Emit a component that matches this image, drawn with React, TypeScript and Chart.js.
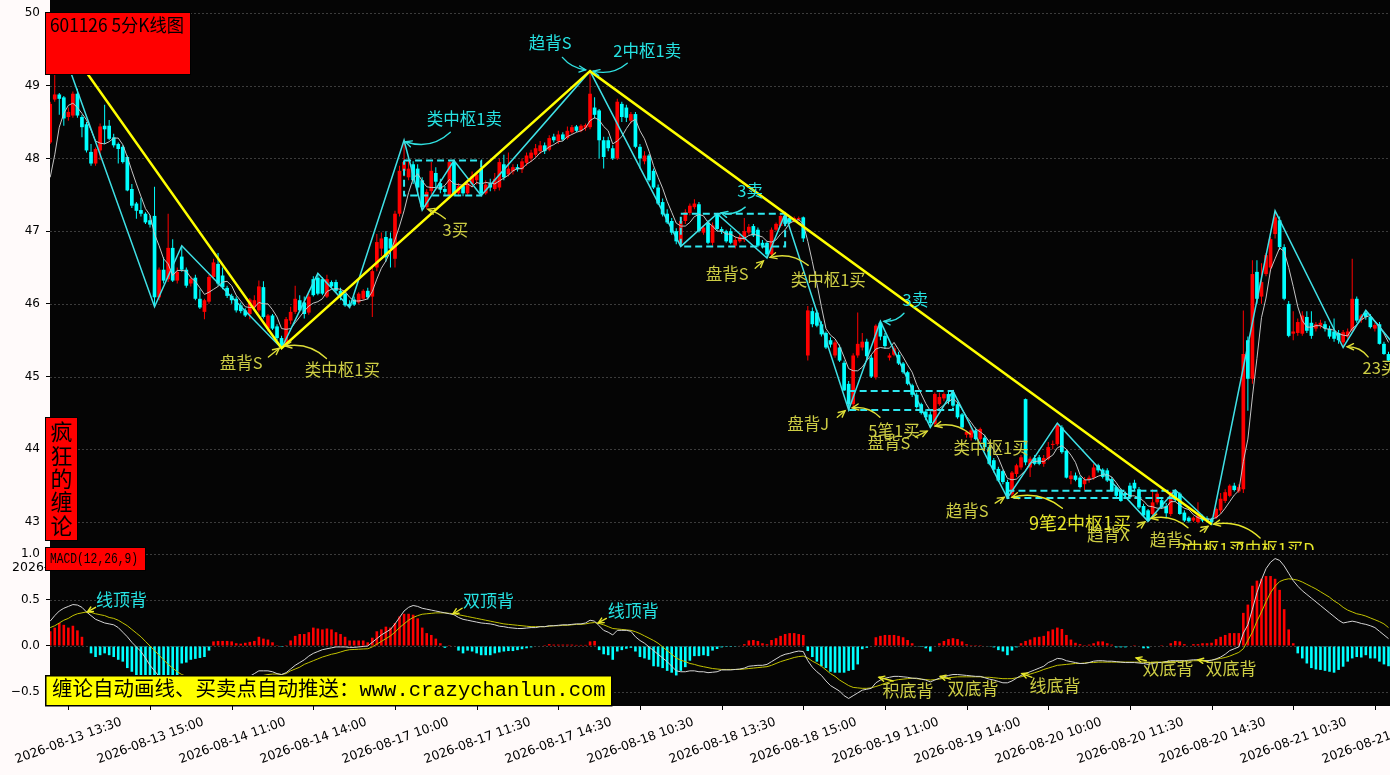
import React, { useEffect, useRef } from "react";
import { Chart, registerables } from "chart.js";

Chart.register(...registerables);

// ---------------- data ----------------
const OPEN = [
  48.22,48.81,48.88,48.84,48.57,48.59,48.89,48.57,48.47,48.09,
  47.93,48.11,48.45,48.45,48.29,48.20,48.16,48.02,47.58,47.38,
  47.29,47.24,47.15,47.21,46.09,46.47,46.34,46.77,46.32,46.65,
  46.47,46.28,46.36,46.07,45.89,46.03,46.37,46.55,46.39,46.22,
  46.11,46.07,45.98,45.91,45.86,45.95,45.91,46.23,45.66,45.84,
  45.69,45.53,45.45,45.77,45.89,46.05,46.02,45.88,46.34,46.36,
  46.34,46.10,46.30,46.30,46.18,46.14,46.00,46.06,46.02,46.07,
  46.18,46.10,46.50,46.76,46.92,46.90,46.62,47.24,47.83,47.74,
  47.92,47.86,47.70,47.33,47.55,47.80,47.66,47.58,47.49,47.95,
  47.52,47.62,47.52,47.65,47.70,47.86,47.52,47.66,47.58,47.60,
  47.92,47.78,47.82,47.88,47.85,47.94,48.00,48.05,48.10,48.18,
  48.12,48.30,48.24,48.33,48.28,48.36,48.44,48.38,48.42,48.43,
  48.70,48.66,48.25,48.25,48.14,48.00,48.75,48.70,48.52,48.61,
  48.16,47.96,48.04,47.83,47.60,47.40,47.24,47.14,47.00,46.84,
  47.14,47.25,47.33,47.37,46.98,47.12,46.84,47.23,47.03,47.00,
  47.00,46.80,46.86,46.88,46.98,47.07,47.02,46.84,46.84,46.68,
  47.02,47.07,47.21,47.18,47.14,47.16,47.19,45.29,45.90,45.88,
  45.72,45.60,45.50,45.29,45.40,45.19,44.90,44.62,45.29,45.40,
  45.48,45.26,44.99,45.74,45.56,45.26,45.30,45.30,45.18,45.06,
  44.88,44.75,44.62,44.52,44.48,44.35,44.62,44.70,44.76,44.78,
  44.62,44.48,44.20,44.16,44.26,44.14,44.16,44.03,43.85,43.73,
  43.70,43.55,43.38,43.66,43.75,44.69,43.75,43.88,43.89,43.80,
  43.87,44.06,44.07,44.30,43.98,43.59,43.64,43.61,43.52,43.58,
  43.61,43.78,43.72,43.71,43.59,43.48,43.43,43.40,43.50,43.54,
  43.45,43.22,43.16,43.11,43.27,43.30,43.22,43.11,43.41,43.39,
  43.13,43.06,43.02,43.00,43.07,43.05,43.04,43.06,43.16,43.29,
  43.36,43.50,43.42,43.45,45.50,44.97,46.44,46.10,46.41,46.50,
  46.96,47.15,46.78,46.00,45.59,45.60,45.59,45.82,45.74,45.66,
  45.70,45.72,45.66,45.62,45.60,45.47,45.55,45.63,46.07,45.78,
  45.88,45.82,45.66,45.72,45.45,45.31,
];
const HIGH = [
  48.78,49.80,48.90,48.86,48.70,48.92,48.96,48.60,48.50,48.20,
  48.15,48.48,48.74,48.53,48.34,48.22,48.18,48.04,47.65,47.40,
  47.46,47.26,47.22,47.61,46.50,46.64,47.24,46.89,46.50,46.80,
  46.50,46.38,46.40,46.20,46.07,46.40,46.62,46.70,46.50,46.25,
  46.14,46.10,46.02,45.94,46.08,46.12,46.32,46.31,45.86,45.86,
  45.72,45.56,45.82,45.96,46.25,46.12,46.10,46.14,46.38,46.42,
  46.37,46.40,46.32,46.33,46.22,46.16,46.05,46.10,46.16,46.20,
  46.22,46.50,46.96,46.98,47.00,46.98,47.28,47.90,48.25,47.98,
  47.96,47.92,47.74,47.58,47.95,47.88,47.72,47.62,47.97,47.97,
  47.66,47.64,47.70,47.82,47.80,47.90,47.70,47.72,47.80,48.00,
  48.05,48.08,47.92,47.92,48.00,48.08,48.12,48.20,48.24,48.22,
  48.32,48.34,48.38,48.36,48.44,48.46,48.46,48.47,48.48,49.20,
  48.84,48.68,48.30,48.30,48.18,48.82,48.78,48.74,48.64,48.64,
  48.20,48.10,48.06,47.86,47.64,47.45,47.30,47.18,47.04,47.18,
  47.30,47.38,47.44,47.40,47.08,47.15,47.12,47.24,47.06,47.02,
  47.04,46.92,46.96,47.18,47.10,47.10,47.05,46.88,46.86,47.05,
  47.12,47.22,47.24,47.20,47.20,47.20,47.20,45.97,45.95,45.92,
  45.76,45.62,45.54,45.50,45.44,45.22,44.94,45.32,45.88,45.60,
  45.52,45.30,45.72,45.76,45.60,45.32,45.42,45.34,45.20,45.08,
  44.90,44.78,44.64,44.55,44.52,44.78,44.78,44.78,44.79,44.80,
  44.65,44.50,44.26,44.32,44.30,44.30,44.20,44.06,43.88,43.76,
  43.72,43.58,43.70,43.80,43.92,44.70,43.90,43.92,43.92,43.92,
  44.10,44.12,44.36,44.33,44.00,43.70,43.68,43.64,43.62,43.64,
  43.80,43.80,43.74,43.74,43.62,43.50,43.46,43.42,43.54,43.58,
  43.48,43.25,43.18,43.45,43.42,43.33,43.26,43.42,43.44,43.41,
  43.16,43.08,43.08,43.27,43.10,43.08,43.06,43.20,43.40,43.45,
  43.52,43.54,43.52,45.91,45.55,46.60,46.60,46.56,46.70,46.92,
  47.28,47.20,46.82,46.04,45.90,45.80,45.90,45.90,45.90,45.75,
  45.78,45.76,45.70,45.80,45.64,45.64,45.66,46.62,46.10,45.86,
  45.91,45.86,45.74,45.75,45.48,45.34,
];
const LOW = [
  48.20,48.78,48.60,48.45,48.52,48.56,48.56,48.29,48.08,47.90,
  47.90,47.98,48.20,48.25,48.15,47.93,47.93,47.55,47.32,47.17,
  47.20,47.10,47.05,45.96,46.05,46.28,46.30,46.30,46.28,46.44,
  46.22,46.24,46.05,45.93,45.79,46.00,46.34,46.25,46.20,46.08,
  46.00,45.88,45.87,45.82,45.79,45.92,45.88,45.80,45.62,45.64,
  45.50,45.39,45.42,45.72,45.86,45.89,45.80,45.85,46.10,46.12,
  46.12,46.08,46.22,46.15,46.05,45.96,45.95,45.97,46.00,46.05,
  46.06,45.82,46.45,46.66,46.58,46.50,46.50,47.20,47.75,47.70,
  47.65,47.48,47.29,47.30,47.50,47.60,47.52,47.50,47.48,47.48,
  47.48,47.48,47.50,47.60,47.64,47.49,47.50,47.55,47.55,47.56,
  47.70,47.75,47.78,47.82,47.80,47.90,47.95,48.02,48.06,48.06,
  48.10,48.22,48.20,48.24,48.26,48.34,48.36,48.36,48.38,48.40,
  48.55,48.00,47.86,48.10,47.98,47.98,48.50,48.50,48.48,48.14,
  47.86,47.92,47.68,47.58,47.36,47.20,47.10,46.95,46.82,46.79,
  47.10,47.22,47.30,46.98,46.95,46.82,46.80,47.00,46.96,46.84,
  46.82,46.76,46.84,46.85,46.95,46.92,46.78,46.76,46.63,46.65,
  47.00,47.05,47.08,47.10,47.12,47.14,46.85,45.22,45.68,45.68,
  45.55,45.38,45.40,45.26,45.20,44.80,44.54,44.58,45.26,45.36,
  45.24,44.98,44.96,45.50,45.38,45.22,45.28,45.16,45.04,44.88,
  44.72,44.56,44.48,44.40,44.30,44.32,44.60,44.66,44.62,44.58,
  44.42,44.28,44.16,44.12,44.12,44.10,44.00,43.78,43.68,43.55,
  43.52,43.33,43.35,43.62,43.72,43.78,43.62,43.78,43.78,43.76,
  43.85,44.00,44.05,43.94,43.60,43.52,43.56,43.46,43.44,43.54,
  43.58,43.68,43.60,43.55,43.42,43.34,43.28,43.34,43.32,43.44,
  43.18,43.08,43.01,43.08,43.24,43.18,43.05,43.08,43.28,43.10,
  43.00,42.99,43.00,42.98,43.00,43.00,42.97,43.04,43.12,43.26,
  43.34,43.42,43.40,43.40,44.53,44.90,46.00,46.00,46.38,46.45,
  46.90,46.74,46.05,45.54,45.50,45.56,45.56,45.60,45.52,45.62,
  45.66,45.62,45.52,45.48,45.45,45.40,45.52,45.60,45.74,45.74,
  45.78,45.66,45.62,45.44,45.30,45.20,
];
const CLOSE = [
  48.75,48.88,48.82,48.55,48.64,48.89,48.59,48.43,48.11,47.93,
  48.13,48.44,48.40,48.27,48.18,48.13,47.95,47.56,47.35,47.28,
  47.24,47.12,47.09,46.09,46.47,46.32,46.77,46.32,46.44,46.47,
  46.25,46.34,46.07,45.95,46.05,46.37,46.57,46.28,46.23,46.11,
  46.05,45.91,45.90,45.84,46.06,46.05,46.24,45.82,45.84,45.66,
  45.53,45.43,45.79,45.89,46.07,45.91,45.86,46.10,46.12,46.14,
  46.14,46.34,46.24,46.18,46.10,45.98,45.97,45.99,46.14,46.18,
  46.09,46.45,46.85,46.90,46.64,46.76,47.24,47.83,47.95,47.86,
  47.70,47.60,47.33,47.54,47.83,47.68,47.57,47.54,47.95,47.50,
  47.62,47.52,47.66,47.76,47.78,47.52,47.64,47.60,47.72,47.95,
  47.74,47.86,47.88,47.85,47.96,48.04,48.08,48.14,48.18,48.10,
  48.28,48.25,48.33,48.26,48.38,48.43,48.38,48.45,48.46,48.89,
  48.60,48.25,48.02,48.14,48.00,48.78,48.57,48.56,48.61,48.16,
  48.00,48.04,47.70,47.60,47.38,47.23,47.12,46.98,46.86,47.14,
  47.26,47.35,47.38,47.00,47.05,46.84,47.08,47.03,46.99,46.86,
  46.84,46.88,46.92,47.00,47.06,46.94,46.80,46.80,46.68,47.02,
  47.10,47.21,47.10,47.12,47.18,47.18,46.90,45.91,45.72,45.70,
  45.58,45.40,45.44,45.47,45.22,44.81,44.62,45.29,45.45,45.48,
  45.28,45.00,45.70,45.55,45.42,45.29,45.39,45.18,45.06,44.90,
  44.75,44.58,44.50,44.44,44.36,44.76,44.72,44.76,44.66,44.60,
  44.44,44.30,44.24,44.26,44.14,44.28,44.03,43.80,43.72,43.57,
  43.55,43.36,43.68,43.78,43.89,43.82,43.87,43.80,43.80,43.88,
  44.03,44.07,44.33,43.96,43.61,43.64,43.58,43.48,43.58,43.61,
  43.75,43.71,43.62,43.57,43.43,43.36,43.29,43.37,43.34,43.46,
  43.20,43.09,43.02,43.27,43.39,43.20,43.12,43.41,43.30,43.11,
  43.02,43.01,43.06,43.09,43.02,43.02,43.00,43.18,43.32,43.41,
  43.50,43.44,43.48,45.31,44.97,46.41,46.07,46.30,46.67,46.89,
  47.19,46.78,46.07,45.56,45.62,45.75,45.84,45.63,45.56,45.72,
  45.74,45.66,45.55,45.52,45.50,45.61,45.62,46.07,45.77,45.84,
  45.82,45.68,45.71,45.45,45.31,45.22,
];
const MA = [
  47.74,48.05,48.43,48.62,48.73,48.76,48.70,48.62,48.53,48.39,
  48.24,48.21,48.20,48.23,48.28,48.28,48.19,48.02,47.83,47.65,
  47.48,47.31,47.22,46.96,46.80,46.62,46.55,46.39,46.46,46.46,
  46.45,46.36,46.31,46.22,46.13,46.16,46.20,46.24,46.30,46.31,
  46.25,46.12,46.04,45.96,45.95,45.95,46.02,46.00,46.00,45.92,
  45.82,45.66,45.65,45.66,45.74,45.82,45.90,45.97,46.01,46.03,
  46.07,46.17,46.20,46.21,46.20,46.17,46.09,46.04,46.04,46.05,
  46.07,46.17,46.34,46.49,46.59,46.72,46.88,47.07,47.28,47.53,
  47.72,47.79,47.69,47.61,47.60,47.60,47.59,47.63,47.71,47.65,
  47.64,47.63,47.65,47.61,47.67,47.65,47.67,47.66,47.65,47.69,
  47.73,47.77,47.83,47.86,47.86,47.92,47.96,48.01,48.08,48.11,
  48.16,48.19,48.23,48.24,48.30,48.33,48.36,48.38,48.42,48.52,
  48.56,48.53,48.44,48.38,48.20,48.24,48.30,48.41,48.50,48.54,
  48.38,48.27,48.10,47.90,47.74,47.59,47.41,47.26,47.11,47.07,
  47.07,47.12,47.20,47.23,47.21,47.12,47.07,47.00,47.00,46.96,
  46.96,46.92,46.90,46.90,46.94,46.96,46.94,46.92,46.86,46.85,
  46.88,46.96,47.02,47.11,47.14,47.16,47.10,46.86,46.58,46.28,
  45.96,45.66,45.57,45.52,45.42,45.27,45.11,45.08,45.08,45.13,
  45.22,45.30,45.38,45.40,45.39,45.39,45.47,45.37,45.27,45.16,
  45.06,44.89,44.76,44.63,44.53,44.53,44.56,44.61,44.65,44.70,
  44.64,44.55,44.45,44.37,44.28,44.24,44.19,44.10,43.99,43.88,
  43.73,43.60,43.58,43.59,43.65,43.71,43.81,43.83,43.84,43.83,
  43.88,43.92,44.02,44.05,44.00,43.92,43.82,43.65,43.58,43.58,
  43.60,43.63,43.65,43.65,43.62,43.54,43.45,43.40,43.36,43.36,
  43.33,43.29,43.22,43.21,43.19,43.19,43.20,43.28,43.28,43.23,
  43.19,43.17,43.10,43.06,43.04,43.04,43.04,43.06,43.11,43.19,
  43.28,43.37,43.43,43.83,44.14,44.72,45.25,45.81,46.08,46.47,
  46.62,46.77,46.72,46.50,46.24,45.96,45.77,45.68,45.68,45.70,
  45.70,45.66,45.65,45.64,45.59,45.57,45.56,45.66,45.71,45.78,
  45.82,45.84,45.76,45.70,45.59,45.47,
];
const DIF = [
  0.27,0.33,0.38,0.41,0.43,0.45,0.445,0.42,0.37,0.33,
  0.29,0.27,0.25,0.24,0.23,0.20,0.15,0.10,0.04,-0.01,
  -0.06,-0.13,-0.21,-0.27,-0.33,-0.38,-0.42,-0.45,-0.47,-0.45,
  -0.45,-0.44,-0.45,-0.46,-0.46,-0.43,-0.40,-0.38,-0.37,-0.36,
  -0.36,-0.36,-0.36,-0.35,-0.33,-0.30,-0.27,-0.27,-0.27,-0.28,
  -0.30,-0.31,-0.29,-0.25,-0.21,-0.18,-0.15,-0.11,-0.08,-0.06,
  -0.04,-0.03,-0.02,-0.01,-0.01,-0.01,-0.015,-0.015,-0.01,-0.005,
  0.0,0.04,0.08,0.12,0.15,0.18,0.24,0.31,0.38,0.42,
  0.44,0.43,0.41,0.40,0.39,0.38,0.37,0.36,0.35,0.34,
  0.31,0.29,0.28,0.27,0.26,0.25,0.245,0.24,0.23,0.215,
  0.21,0.20,0.195,0.19,0.19,0.195,0.20,0.20,0.21,0.21,
  0.22,0.22,0.225,0.23,0.23,0.235,0.24,0.24,0.25,0.28,
  0.27,0.22,0.17,0.15,0.12,0.17,0.17,0.17,0.16,0.10,
  0.06,0.03,-0.01,-0.05,-0.09,-0.13,-0.17,-0.22,-0.27,-0.28,
  -0.28,-0.27,-0.27,-0.28,-0.28,-0.29,-0.285,-0.28,-0.26,-0.26,
  -0.26,-0.255,-0.25,-0.24,-0.22,-0.215,-0.21,-0.21,-0.20,-0.17,
  -0.14,-0.11,-0.09,-0.08,-0.065,-0.055,-0.06,-0.16,-0.23,-0.28,
  -0.32,-0.38,-0.43,-0.46,-0.49,-0.54,-0.57,-0.54,-0.51,-0.48,
  -0.47,-0.46,-0.40,-0.37,-0.35,-0.34,-0.33,-0.33,-0.335,-0.34,
  -0.35,-0.35,-0.36,-0.37,-0.39,-0.37,-0.35,-0.335,-0.32,-0.31,
  -0.31,-0.315,-0.32,-0.325,-0.33,-0.33,-0.345,-0.36,-0.37,-0.385,
  -0.40,-0.40,-0.38,-0.35,-0.32,-0.30,-0.28,-0.26,-0.24,-0.22,
  -0.18,-0.16,-0.135,-0.14,-0.16,-0.17,-0.18,-0.19,-0.19,-0.18,
  -0.165,-0.16,-0.16,-0.165,-0.165,-0.17,-0.175,-0.18,-0.18,-0.18,
  -0.185,-0.19,-0.20,-0.19,-0.18,-0.18,-0.17,-0.16,-0.16,-0.16,
  -0.16,-0.155,-0.15,-0.15,-0.155,-0.16,-0.155,-0.14,-0.12,-0.09,
  -0.05,-0.03,-0.01,0.14,0.23,0.40,0.58,0.72,0.84,0.91,
  0.95,0.93,0.87,0.79,0.71,0.65,0.60,0.56,0.52,0.48,
  0.44,0.40,0.36,0.32,0.28,0.25,0.26,0.27,0.26,0.245,
  0.235,0.22,0.20,0.16,0.12,0.08,
];
const DEA = [
  0.20,0.22,0.25,0.28,0.30,0.33,0.35,0.36,0.37,0.365,
  0.35,0.34,0.33,0.31,0.30,0.28,0.25,0.22,0.18,0.14,
  0.10,0.05,0.0,-0.05,-0.10,-0.15,-0.20,-0.24,-0.28,-0.31,
  -0.33,-0.35,-0.37,-0.38,-0.39,-0.40,-0.40,-0.40,-0.395,-0.39,
  -0.385,-0.38,-0.375,-0.37,-0.36,-0.35,-0.33,-0.32,-0.31,-0.305,
  -0.305,-0.31,-0.30,-0.27,-0.25,-0.23,-0.20,-0.18,-0.16,-0.14,
  -0.12,-0.105,-0.09,-0.08,-0.065,-0.05,-0.04,-0.038,-0.035,-0.032,
  -0.03,-0.01,0.02,0.05,0.08,0.11,0.15,0.20,0.24,0.28,
  0.31,0.33,0.345,0.35,0.355,0.36,0.36,0.36,0.355,0.35,
  0.34,0.33,0.32,0.31,0.30,0.29,0.28,0.27,0.26,0.25,
  0.24,0.235,0.23,0.225,0.22,0.215,0.21,0.21,0.21,0.21,
  0.215,0.22,0.22,0.225,0.225,0.23,0.235,0.235,0.24,0.25,
  0.255,0.245,0.23,0.21,0.19,0.185,0.18,0.175,0.17,0.155,
  0.135,0.11,0.085,0.06,0.03,-0.01,-0.05,-0.09,-0.13,-0.155,
  -0.17,-0.19,-0.20,-0.215,-0.225,-0.235,-0.245,-0.25,-0.255,-0.255,
  -0.255,-0.255,-0.255,-0.25,-0.245,-0.24,-0.235,-0.23,-0.225,-0.21,
  -0.19,-0.17,-0.155,-0.14,-0.125,-0.115,-0.11,-0.13,-0.165,-0.19,
  -0.22,-0.26,-0.30,-0.33,-0.37,-0.40,-0.43,-0.45,-0.455,-0.46,
  -0.46,-0.455,-0.44,-0.425,-0.405,-0.39,-0.375,-0.365,-0.36,-0.355,
  -0.35,-0.355,-0.36,-0.365,-0.37,-0.365,-0.36,-0.35,-0.345,-0.34,
  -0.335,-0.335,-0.335,-0.335,-0.335,-0.335,-0.34,-0.34,-0.345,-0.35,
  -0.355,-0.355,-0.355,-0.345,-0.335,-0.32,-0.305,-0.29,-0.275,-0.255,
  -0.24,-0.225,-0.21,-0.205,-0.20,-0.195,-0.19,-0.19,-0.185,-0.18,
  -0.18,-0.175,-0.175,-0.175,-0.175,-0.175,-0.175,-0.175,-0.175,-0.175,
  -0.175,-0.175,-0.18,-0.18,-0.175,-0.175,-0.17,-0.17,-0.17,-0.165,
  -0.165,-0.165,-0.16,-0.16,-0.16,-0.16,-0.155,-0.145,-0.135,-0.125,
  -0.11,-0.09,-0.07,-0.03,0.06,0.15,0.27,0.37,0.48,0.58,
  0.65,0.70,0.72,0.73,0.725,0.715,0.695,0.67,0.645,0.62,
  0.59,0.56,0.53,0.49,0.46,0.42,0.39,0.37,0.35,0.34,
  0.325,0.305,0.285,0.265,0.24,0.20,
];
const HIST = [
  0.16,0.20,0.25,0.23,0.20,0.22,0.17,0.10,0.0,-0.08,
  -0.12,-0.10,-0.08,-0.10,-0.12,-0.15,-0.17,-0.24,-0.28,-0.32,
  -0.35,-0.37,-0.38,-0.40,-0.42,-0.42,-0.40,-0.38,-0.34,-0.19,
  -0.18,-0.15,-0.14,-0.13,-0.12,-0.05,0.05,0.055,0.055,0.055,
  0.05,0.03,0.025,0.035,0.045,0.055,0.10,0.08,0.07,0.04,
  0.01,-0.01,0.01,0.06,0.11,0.13,0.13,0.15,0.20,0.19,
  0.18,0.19,0.18,0.15,0.13,0.10,0.06,0.06,0.06,0.06,
  0.04,0.09,0.16,0.18,0.21,0.20,0.25,0.32,0.35,0.35,
  0.34,0.30,0.20,0.14,0.12,0.08,0.03,-0.02,0.01,0.005,
  -0.05,-0.08,-0.05,-0.06,-0.08,-0.10,-0.10,-0.10,-0.08,-0.07,
  -0.06,-0.055,-0.055,-0.045,-0.035,-0.025,-0.015,-0.005,0.005,0.01,
  0.02,0.015,0.015,0.015,0.015,0.015,0.012,0.012,0.012,0.05,
  0.055,-0.045,-0.09,-0.10,-0.15,-0.06,-0.045,-0.03,-0.02,-0.06,
  -0.12,-0.135,-0.15,-0.22,-0.225,-0.24,-0.27,-0.29,-0.32,-0.27,
  -0.23,-0.16,-0.11,-0.11,-0.10,-0.11,-0.05,-0.033,-0.015,-0.01,
  -0.01,-0.003,0.007,0.02,0.06,0.065,0.055,0.03,0.02,0.065,
  0.085,0.11,0.13,0.14,0.14,0.13,0.12,-0.055,-0.12,-0.17,
  -0.22,-0.24,-0.28,-0.29,-0.29,-0.29,-0.27,-0.26,-0.20,-0.035,
  -0.02,-0.005,0.095,0.11,0.12,0.12,0.12,0.11,0.095,0.065,
  0.03,-0.007,-0.01,-0.025,-0.06,0.005,0.03,0.055,0.075,0.085,
  0.075,0.05,0.02,0.01,0.01,0.01,0.0,-0.007,-0.015,-0.045,
  -0.06,-0.10,-0.05,-0.015,0.03,0.055,0.07,0.095,0.10,0.11,
  0.16,0.18,0.20,0.185,0.12,0.07,0.035,0.02,0.01,0.015,
  0.03,0.05,0.05,0.03,0.015,-0.015,-0.015,-0.015,0.0,0.01,
  0.0,-0.025,-0.025,0.0,0.0,0.01,0.0,0.03,0.055,0.05,
  0.02,0.0,0.02,0.02,0.03,0.03,0.035,0.075,0.10,0.12,
  0.14,0.14,0.14,0.36,0.45,0.655,0.71,0.73,0.76,0.76,
  0.73,0.61,0.40,0.18,0.03,-0.08,-0.135,-0.19,-0.24,-0.255,
  -0.26,-0.27,-0.28,-0.29,-0.26,-0.225,-0.17,-0.135,-0.12,-0.125,
  -0.10,-0.135,-0.135,-0.17,-0.20,-0.22,
];
// strokes (bi) vertices [bar, price]
const BI = [
  [1,49.80],[23,45.96],[29,46.80],[51,45.39],[59,46.42],[66,45.95],[78,48.25],[82,47.29],
  [89,47.97],[95,47.49],[119,49.20],[139,46.79],[147,47.24],[158,46.63],[162,47.24],[176,44.54],
  [183,45.76],[194,44.30],[199,44.80],[211,43.33],[222,44.36],[242,43.01],[248,43.44],[256,42.97],
  [270,47.28],[285,45.40],[290,45.91],[297,45.38],
];
// segment (xianduan) vertices
const SEG = [[1,49.80],[51,45.39],[119,49.20],[256,42.97]];
// pivots: [fromBar, toBar, top, bottom]
const ZS = [[78,95,47.97,47.49],[139,162,47.24,46.79],[176,199,44.80,44.54],[211,248,43.43,43.33]];

const TICK_POS = [4,22,40,58,76,94,112,130,148,166,184,202,220,238,256,274,292];
const TICK_LABELS = [
  "2026-08-13 13:30","2026-08-13 15:00","2026-08-14 11:00","2026-08-14 14:00",
  "2026-08-17 10:00","2026-08-17 11:30","2026-08-17 14:30","2026-08-18 10:30",
  "2026-08-18 13:30","2026-08-18 15:00","2026-08-19 11:00","2026-08-19 14:00",
  "2026-08-20 10:00","2026-08-20 11:30","2026-08-20 14:30","2026-08-21 10:30",
  "2026-08-21 13:30",
];
const PRICE_TICKS = [43,44,45,46,47,48,49,50];
const MACD_TICKS = [-0.5,0,0.5,1.0];
const MACD_TICK_LABELS = ["\u22120.5","0.0","0.5","1.0"];

// annotations: text, colour key, text pos, arrow from, arrow to (data coords), curvature
const MAIN_NOTES = [
  { t:"盘背S", c:"k", tb:42.1, tp:45.19, fb:48.1, fp:45.27, ab:50.5, ap:45.39, r:0 },
  { t:"类中枢1买", c:"k", tb:64.4, tp:45.09, fb:60.9, fp:45.25, ab:51.8, ap:45.42, r:0.25 },
  { t:"类中枢1卖", c:"c", tb:91.3, tp:48.54, fb:88.2, fp:48.36, ab:78.3, ap:48.23, r:-0.3 },
  { t:"3买", c:"k", tb:89.3, tp:47.02, fb:87.1, fp:47.17, ab:83.3, ap:47.30, r:0.1 },
  { t:"趋背S", c:"c", tb:110.2, tp:49.59, fb:112.9, fp:49.39, ab:118.0, ap:49.22, r:0.2 },
  { t:"2中枢1卖", c:"c", tb:131.6, tp:49.48, fb:127.2, fp:49.31, ab:119.7, ap:49.20, r:-0.25 },
  { t:"3卖", c:"c", tb:154.3, tp:47.55, fb:153.2, fp:47.33, ab:147.9, ap:47.25, r:-0.25 },
  { t:"盘背S", c:"k", tb:149.2, tp:46.42, fb:155.4, fp:46.49, ab:157.2, ap:46.59, r:0 },
  { t:"类中枢1买", c:"k", tb:171.5, tp:46.33, fb:167.1, fp:46.53, ab:158.7, ap:46.64, r:0.25 },
  { t:"3卖", c:"c", tb:190.7, tp:46.05, fb:188.2, fp:45.87, ab:183.8, ap:45.76, r:-0.25 },
  { t:"盘背J", c:"k", tb:167.1, tp:44.35, fb:173.5, fp:44.44, ab:175.2, ap:44.53, r:0 },
  { t:"5笔1买", c:"k", tb:186.0, tp:44.26, fb:182.9, fp:44.44, ab:176.8, ap:44.57, r:0.25 },
  { t:"盘背S", c:"k", tb:184.9, tp:44.09, fb:190.7, fp:44.17, ab:193.3, ap:44.25, r:0 },
  { t:"类中枢1买", c:"k", tb:207.4, tp:44.02, fb:202.8, fp:44.21, ab:195.1, ap:44.32, r:0.25 },
  { t:"趋背S", c:"k", tb:202.1, tp:43.15, fb:208.3, fp:43.26, ab:210.3, ap:43.34, r:0 },
  { t:"9笔2中枢1买", c:"y", tb:227.0, tp:42.98, fb:223.1, fp:43.19, ab:212.0, ap:43.34, r:0.25, big:true },
  { t:"趋背X", c:"k", tb:233.2, tp:42.82, fb:239.6, fp:42.93, ab:241.3, ap:43.00, r:0 },
  { t:"趋背S", c:"k", tb:247.1, tp:42.75, fb:253.5, fp:42.87, ab:255.2, ap:42.94, r:0 },
  { t:"2中枢1买", c:"y", tb:255.9, tp:42.63, fb:250.8, fp:42.92, ab:242.7, ap:43.05, r:0.25 },
  { t:"2中枢1买D", c:"y", tb:270.0, tp:42.63, fb:266.7, fp:42.78, ab:256.5, ap:42.97, r:0.25 },
  { t:"23买", c:"k", tb:293.1, tp:45.12, fb:290.5, fp:45.27, ab:285.9, ap:45.41, r:0.25 },
];
const MACD_NOTES = [
  { t:"线顶背", c:"c", tb:15.7, tp:0.51, fb:10.0, fp:0.42, ab:8.2, ap:0.37 },
  { t:"双顶背", c:"c", tb:96.6, tp:0.49, fb:90.8, fp:0.41, ab:88.8, ap:0.35 },
  { t:"线顶背", c:"c", tb:128.5, tp:0.38, fb:122.6, fp:0.30, ab:120.8, ap:0.25 },
  { t:"积底背", c:"k", tb:189.1, tp:-0.48, fb:185.8, fp:-0.38, ab:182.7, ap:-0.34 },
  { t:"双底背", c:"k", tb:203.4, tp:-0.46, fb:198.4, fp:-0.36, ab:196.2, ap:-0.33 },
  { t:"线底背", c:"k", tb:221.5, tp:-0.43, fb:216.4, fp:-0.34, ab:214.2, ap:-0.30 },
  { t:"双底背", c:"k", tb:246.4, tp:-0.25, fb:241.6, fp:-0.16, ab:239.4, ap:-0.13 },
  { t:"双底背", c:"k", tb:260.3, tp:-0.25, fb:255.2, fp:-0.17, ab:253.0, ap:-0.15 },
];

// ---------------- styling ----------------
const UP = "#ff0000";
const DOWN = "#00ffff";
const PLOT_BG = "#050505";
const PAGE_BG = "#fffafa";
const GRID = "#3c3c3c";
const TEXT_COL: any = { c: "#26e3e3", k: "#cdcd45", y: "#e6e62a" };
const ARROW_COL: any = { c: "#30e0e0", k: "#dede38", y: "#e6e62a" };
const CJK = '"Noto Sans CJK SC", "Noto Sans CJK JP", sans-serif';
const AXIS_FONT = '12.5px "DejaVu Sans", sans-serif';
const X_MIN = -0.044;
const X_MAX = 295.33;

const candleColor = (i: number) => (CLOSE[i] >= OPEN[i] ? UP : DOWN);

function drawArrow(ctx: any, x1: number, y1: number, x2: number, y2: number, color: string, curv: number, head = 7, lw = 1.4) {
  const dx = x2 - x1, dy = y2 - y1;
  const cx = (x1 + x2) / 2 - dy * curv;
  const cy = (y1 + y2) / 2 + dx * curv;
  ctx.save();
  ctx.strokeStyle = color;
  ctx.lineWidth = lw;
  ctx.lineCap = "round";
  ctx.setLineDash([]);
  ctx.beginPath();
  ctx.moveTo(x1, y1);
  ctx.quadraticCurveTo(cx, cy, x2, y2);
  ctx.stroke();
  const ang = Math.atan2(y2 - cy, x2 - cx);
  ctx.beginPath();
  ctx.moveTo(x2 - head * Math.cos(ang - 0.45), y2 - head * Math.sin(ang - 0.45));
  ctx.lineTo(x2, y2);
  ctx.lineTo(x2 - head * Math.cos(ang + 0.45), y2 - head * Math.sin(ang + 0.45));
  ctx.stroke();
  ctx.restore();
}

function fillPlotAndGrid(chart: any, ticks: number[]) {
  const { ctx, chartArea: a, scales } = chart;
  ctx.save();
  ctx.fillStyle = PLOT_BG;
  ctx.fillRect(a.left, a.top, a.right - a.left, a.bottom - a.top);
  ctx.strokeStyle = GRID;
  ctx.lineWidth = 1;
  ctx.setLineDash([2, 2]);
  for (const v of ticks) {
    const y = Math.round(scales.y.getPixelForValue(v)) + 0.5;
    ctx.beginPath();
    ctx.moveTo(a.left, y);
    ctx.lineTo(a.right, y);
    ctx.stroke();
  }
  ctx.restore();
}

function drawNotes(chart: any, notes: any[], size: number, arrowAll?: string) {
  const { ctx, scales } = chart;
  const X = (b: number) => scales.x.getPixelForValue(b);
  const Y = (p: number) => scales.y.getPixelForValue(p);
  for (const n of notes) {
    const col = arrowAll || ARROW_COL[n.c];
    drawArrow(ctx, X(n.fb), Y(n.fp), X(n.ab), Y(n.ap), col, n.r || 0, arrowAll ? 6 : 7);
    ctx.save();
    ctx.font = `${n.big ? 18 : size}px ${CJK}`;
    ctx.fillStyle = TEXT_COL[n.c];
    ctx.textAlign = "center";
    ctx.textBaseline = "middle";
    ctx.fillText(n.t, X(n.tb), Y(n.tp));
    ctx.restore();
  }
}

const mainPlugin = {
  id: "mainDeco",
  beforeDraw(chart: any) {
    fillPlotAndGrid(chart, PRICE_TICKS);
  },
  afterDraw(chart: any) {
    const { ctx } = chart;
    drawNotes(chart, MAIN_NOTES, 16.5);
    ctx.save();
    // title box
    ctx.fillStyle = "#ff0000";
    ctx.fillRect(45, 12, 146, 63);
    ctx.strokeStyle = "#000";
    ctx.lineWidth = 1;
    ctx.strokeRect(45.5, 12.5, 145, 62);
    ctx.fillStyle = "#000";
    ctx.font = `18px ${CJK}`;
    ctx.textAlign = "left";
    ctx.textBaseline = "middle";
    ctx.fillText("601126 5分K线图", 50, 25, 134);
    // vertical box
    ctx.fillStyle = "#ff0000";
    ctx.fillRect(45, 417, 33, 124);
    ctx.strokeRect(45.5, 417.5, 32, 123);
    ctx.fillStyle = "#000";
    ctx.font = `22px ${CJK}`;
    ctx.textAlign = "center";
    const chars = ["疯", "狂", "的", "缠", "论"];
    chars.forEach((ch, k) => ctx.fillText(ch, 61.5, 432 + k * 23.3));
    ctx.restore();
  },
};

const macdPlugin = {
  id: "macdDeco",
  beforeDraw(chart: any) {
    const { ctx, scales } = chart;
    // main-chart x label peeking out at the left
    ctx.save();
    ctx.fillStyle = "#000";
    ctx.font = AXIS_FONT;
    ctx.textAlign = "center";
    ctx.textBaseline = "middle";
    ctx.fillText(TICK_LABELS[0], scales.x.getPixelForValue(TICK_POS[0]), 23);
    ctx.restore();
    fillPlotAndGrid(chart, MACD_TICKS);
  },
  afterDraw(chart: any) {
    const { ctx, chartArea: a, scales } = chart;
    // x ticks + rotated labels
    ctx.save();
    ctx.strokeStyle = "#000";
    ctx.lineWidth = 1;
    ctx.fillStyle = "#000";
    ctx.font = AXIS_FONT;
    ctx.textAlign = "center";
    ctx.textBaseline = "middle";
    TICK_POS.forEach((b, k) => {
      const x = Math.round(scales.x.getPixelForValue(b)) + 0.5;
      ctx.beginPath();
      ctx.moveTo(x, a.bottom);
      ctx.lineTo(x, a.bottom + 4);
      ctx.stroke();
      ctx.save();
      ctx.translate(x, a.bottom + 35);
      ctx.rotate((-20 * Math.PI) / 180);
      ctx.fillText(TICK_LABELS[k], 0, 0);
      ctx.restore();
    });
    ctx.restore();

    drawNotes(chart, MACD_NOTES, 17, "#e6e62a");

    ctx.save();
    // MACD label box
    ctx.fillStyle = "#ff0000";
    ctx.fillRect(45, 2, 101, 24);
    ctx.strokeStyle = "#000";
    ctx.lineWidth = 1;
    ctx.strokeRect(45.5, 2.5, 100, 23);
    ctx.fillStyle = "#000";
    ctx.font = '15px "Liberation Mono", monospace';
    ctx.textAlign = "left";
    ctx.textBaseline = "middle";
    ctx.fillText("MACD(12,26,9)", 50, 14.5, 88);
    // yellow promo box
    ctx.fillStyle = "#ffff00";
    ctx.fillRect(45, 130, 567, 31);
    ctx.lineWidth = 1.5;
    ctx.strokeRect(45.75, 130.75, 566, 30);
    ctx.fillStyle = "#000";
    ctx.font = `20.5px "Liberation Mono", ${CJK}`;
    ctx.fillText("缠论自动画线、买卖点自动推送：www.crazychanlun.com", 52, 146, 556);
    ctx.restore();
  },
};

function yAxis(min: number, max: number, ticks: number[], labels?: string[]) {
  return {
    type: "linear",
    position: "left",
    min,
    max,
    afterFit: (s: any) => {
      s.width = 50;
      s.paddingTop = 0;
      s.paddingBottom = 0;
    },
    afterBuildTicks: (s: any) => {
      s.ticks = ticks.map((v) => ({ value: v }));
    },
    ticks: {
      color: "#000",
      font: { family: "DejaVu Sans", size: 12 },
      padding: 6,
      autoSkip: false,
      callback: (v: any) => {
        const k = ticks.indexOf(Number(v));
        return labels && k >= 0 ? labels[k] : String(v);
      },
    },
    grid: { display: true, drawOnChartArea: false, drawTicks: true, tickLength: 4, tickColor: "#000", color: "#000" },
    border: { display: false },
  };
}

const xAxis = { type: "linear", min: X_MIN, max: X_MAX, display: false, offset: false };

function mainConfig(): any {
  const idx = CLOSE.map((_, i) => i);
  const colors = idx.map(candleColor);
  const datasets: any[] = [
    {
      type: "bar",
      data: idx.map((i) => ({ x: i, y: [LOW[i], HIGH[i]] })),
      backgroundColor: colors,
      barThickness: 1,
      grouped: false,
      inflateAmount: 0,
      clip: 0,
      order: 20,
    },
    {
      type: "bar",
      data: idx.map((i) => {
        const lo = Math.min(OPEN[i], CLOSE[i]);
        const hi = Math.max(OPEN[i], CLOSE[i], lo + 0.014);
        return { x: i, y: [lo, hi] };
      }),
      backgroundColor: colors,
      barThickness: 3.7,
      grouped: false,
      inflateAmount: 0,
      clip: 0,
      order: 19,
    },
    {
      type: "line",
      data: MA.map((v, i) => ({ x: i, y: v })),
      borderColor: "#c4c4c4",
      borderWidth: 1,
      pointRadius: 0,
      clip: 0,
      order: 15,
    },
    ...ZS.map((z) => ({
      type: "line",
      data: [
        { x: z[0], y: z[2] }, { x: z[1], y: z[2] }, { x: z[1], y: z[3] }, { x: z[0], y: z[3] }, { x: z[0], y: z[2] },
      ],
      borderColor: "#2ee8f0",
      borderWidth: 2,
      borderDash: [7, 4],
      pointRadius: 0,
      clip: 0,
      order: 12,
    })),
    {
      type: "line",
      data: BI.map(([x, y]) => ({ x, y })),
      borderColor: "#3fe0e6",
      borderWidth: 1.5,
      pointRadius: 0,
      clip: 0,
      order: 10,
    },
    {
      type: "line",
      data: SEG.map(([x, y]) => ({ x, y })),
      borderColor: "#ffff00",
      borderWidth: 2.5,
      pointRadius: 0,
      clip: 0,
      order: 5,
    },
  ];
  return {
    type: "bar",
    data: { datasets },
    options: {
      animation: false,
      responsive: false,
      maintainAspectRatio: false,
      devicePixelRatio: 1,
      events: [],
      layout: { padding: 0 },
      plugins: { legend: { display: false }, tooltip: { enabled: false } },
      scales: { x: xAxis, y: yAxis(42.615, 50.179, PRICE_TICKS) },
    },
    plugins: [mainPlugin],
  };
}

function macdConfig(): any {
  const idx = HIST.map((_, i) => i);
  return {
    type: "bar",
    data: {
      datasets: [
        {
          type: "bar",
          data: idx.map((i) => ({ x: i, y: HIST[i] })),
          backgroundColor: idx.map((i) => (HIST[i] >= 0 ? UP : DOWN)),
          barThickness: 2.6,
          grouped: false,
          inflateAmount: 0,
          clip: 0,
          order: 10,
        },
        {
          type: "line",
          data: DEA.map((v, i) => ({ x: i, y: v })),
          borderColor: "#c2c200",
          borderWidth: 1,
          pointRadius: 0,
          clip: 0,
          order: 6,
        },
        {
          type: "line",
          data: DIF.map((v, i) => ({ x: i, y: v })),
          borderColor: "#d4d4d4",
          borderWidth: 1,
          pointRadius: 0,
          clip: 0,
          order: 5,
        },
      ],
    },
    options: {
      animation: false,
      responsive: false,
      maintainAspectRatio: false,
      devicePixelRatio: 1,
      events: [],
      layout: { padding: { top: 5, bottom: 69, left: 0, right: 0 } },
      plugins: { legend: { display: false }, tooltip: { enabled: false } },
      scales: { x: xAxis, y: yAxis(-0.652, 1.043, MACD_TICKS, MACD_TICK_LABELS) },
    },
    plugins: [macdPlugin],
  };
}

export default function App() {
  const mainRef = useRef<HTMLCanvasElement>(null);
  const macdRef = useRef<HTMLCanvasElement>(null);
  useEffect(() => {
    document.body.style.margin = "0";
    document.body.style.background = PAGE_BG;
    const c1 = new Chart(mainRef.current as any, mainConfig());
    const c2 = new Chart(macdRef.current as any, macdConfig());
    return () => {
      c1.destroy();
      c2.destroy();
    };
  }, []);
  return (
    <div style={{ position: "relative", width: 1390, height: 775, background: PAGE_BG, overflow: "hidden" }}>
      <canvas ref={mainRef} width={1390} height={550} style={{ position: "absolute", left: 0, top: 0, width: 1390, height: 550 }} />
      <canvas ref={macdRef} width={1390} height={230} style={{ position: "absolute", left: 0, top: 545, width: 1390, height: 230 }} />
    </div>
  );
}
